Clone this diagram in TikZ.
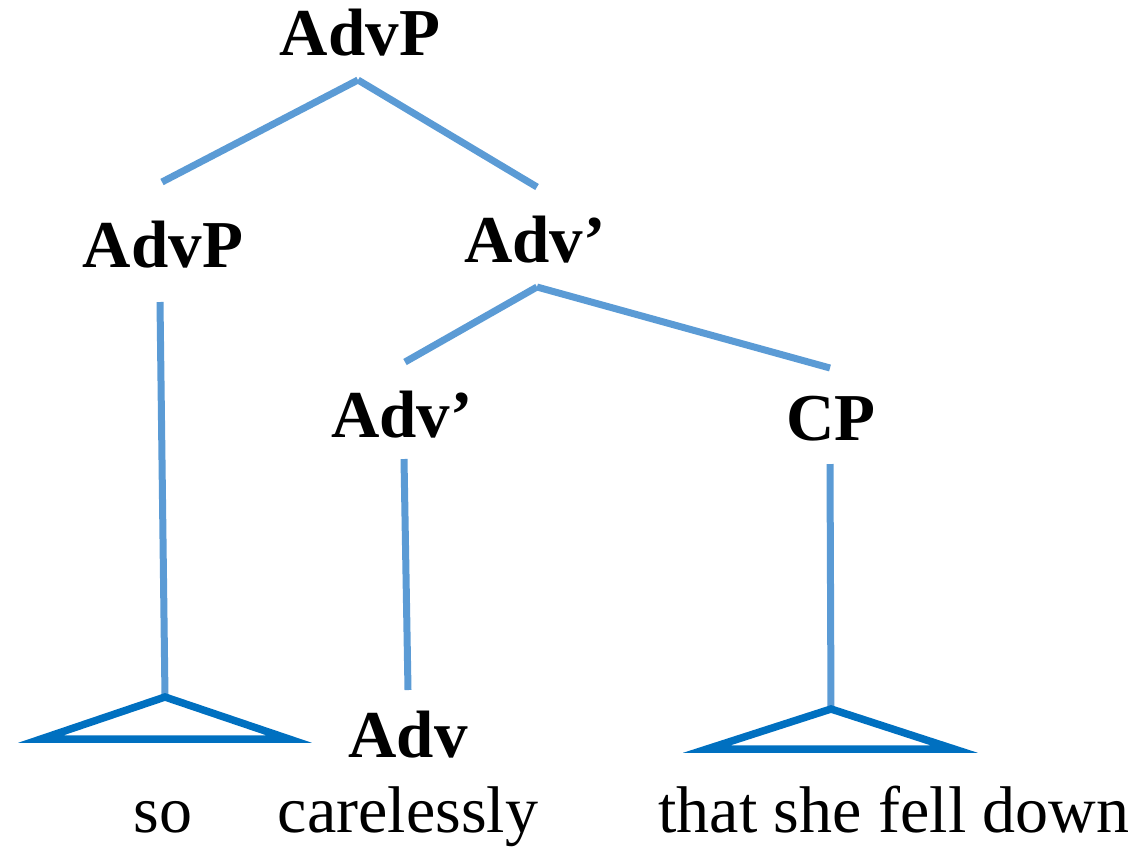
\documentclass[tikz,border=0pt]{standalone}
\usepackage{fontspec}
\setmainfont{Liberation Serif}
\definecolor{branch}{HTML}{5B9BD5}
\definecolor{roof}{HTML}{0070C0}
\begin{document}
\begin{tikzpicture}[x=1pt,y=-1pt,
  lab/.style={anchor=base,inner sep=0pt,font=\fontsize{67}{70}\selectfont\bfseries},
  word/.style={anchor=base,inner sep=0pt,font=\fontsize{66}{70}\selectfont},
  edge/.style={draw=branch,line width=7pt},
  tri/.style={draw=roof,line width=7.5pt,line join=miter}]
\useasboundingbox (0,0) rectangle (1140,847);

% category labels
\node[lab] (advp) at (360,55) {AdvP};
\node[lab] (advpL) at (163,267) {AdvP};
\node[lab] (advbar) at (535,262) {Adv’};
\node[lab] (advbarL) at (402,437) {Adv’};
\node[lab] (cp) at (831,440) {CP};
\node[lab] (adv) at (408,757) {Adv};

% terminal words
\node[word] (so) at (163,832) {so};
\node[word] (careless) at (408,832) {carelessly};
\node[word] (that) at (894,832) {that she fell down};

% branch end points
\coordinate (advp-b) at (358,80);
\coordinate (advpL-t) at (162,182);
\coordinate (advbar-t) at (537,187);
\coordinate (advpL-b) at (160,302);
\coordinate (advbar-b) at (537,287);
\coordinate (advbarL-t) at (405,362);
\coordinate (cp-t) at (830,368);
\coordinate (advbarL-b) at (404,459);
\coordinate (adv-t) at (408,690);
\coordinate (cp-b) at (830,464);

% roofs
\coordinate (roofL-a) at (165,697);
\coordinate (roofL-l) at (41,739);
\coordinate (roofL-r) at (289,739);
\coordinate (roofR-a) at (831,709);
\coordinate (roofR-l) at (707,749);
\coordinate (roofR-r) at (954,749);

% branches
\draw[edge] (advp-b) -- (advpL-t);
\draw[edge] (advp-b) -- (advbar-t);
\draw[edge] (advbar-b) -- (advbarL-t);
\draw[edge] (advbar-b) -- (cp-t);
\draw[edge] (advpL-b) -- (roofL-a);
\draw[edge] (advbarL-b) -- (adv-t);
\draw[edge] (cp-b) -- (roofR-a);

% triangles
\draw[tri] (roofL-a) -- (roofL-r) -- (roofL-l) -- cycle;
\draw[tri] (roofR-a) -- (roofR-r) -- (roofR-l) -- cycle;
\end{tikzpicture}
\end{document}
